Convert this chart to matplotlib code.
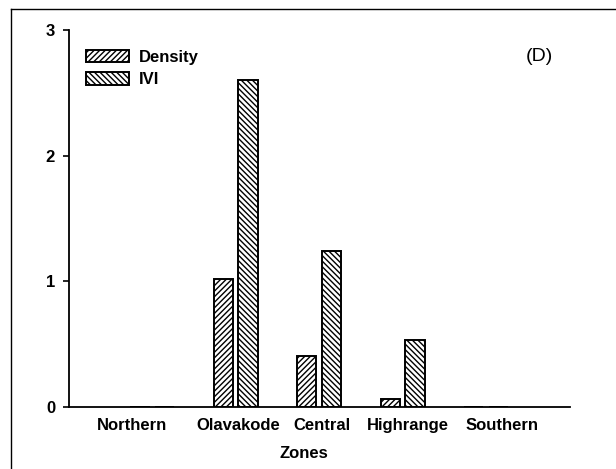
import numpy as np
import matplotlib.pyplot as plt
import matplotlib.transforms as mtransforms
from matplotlib.lines import Line2D

zones = ['Northern', 'Olavakode', 'Central', 'Highrange', 'Southern']
density = [0.0, 1.02, 0.41, 0.064, 0.0]
ivi = [0.0, 2.60, 1.24, 0.53, 0.0]

plt.rcParams['font.family'] = ['Liberation Sans', 'DejaVu Sans']
plt.rcParams['hatch.linewidth'] = 1.0

fig = plt.figure(figsize=(6.16, 4.69), dpi=100)
ax = fig.add_axes([0.112, 0.132, 0.813, 0.804])

x = np.arange(len(zones))
w = 0.23
ax.bar(x - 0.15, density, w, color='white', edgecolor='black', hatch='//////',
       linewidth=1.4, label='Density')
ax.bar(x + 0.145, ivi, w, color='white', edgecolor='black', hatch='\\\\\\\\\\\\',
       linewidth=1.4, label='IVI')

ax.set_xlim(-1, 5)
ax.set_ylim(0, 3)
ax.set_yticks([0, 1, 2, 3])
ax.set_xticks(x)
ax.set_xticklabels(zones, fontsize=12, fontweight='bold')
ax.tick_params(axis='x', length=0, pad=8)
ax.tick_params(axis='y', direction='out', length=4, width=1.2, labelsize=12, pad=6)
for t in ax.get_yticklabels():
    t.set_fontweight('bold')

# the source spreads the outer labels a little wider than the bars
shifts = [-20, 2, 3, 5, 16]
for lab, dx in zip(ax.get_xticklabels(), shifts):
    lab.set_transform(lab.get_transform() +
                      mtransforms.ScaledTranslation(dx / 100, 0, fig.dpi_scale_trans))

ax.spines['top'].set_visible(False)
ax.spines['right'].set_visible(False)
ax.spines['left'].set_linewidth(1.3)
ax.spines['bottom'].set_linewidth(1.3)
ax.set_xlabel('Zones', fontsize=12, fontweight='bold')
ax.xaxis.set_label_coords(0.47, -0.103)

ax.text(0.94, 0.93, '(D)', transform=ax.transAxes, fontsize=14, ha='center', va='center')

ax.legend(loc='upper left', bbox_to_anchor=(0.02, 0.965), frameon=False,
          handlelength=2.6, handleheight=0.75, labelspacing=0.45,
          handletextpad=0.6, borderaxespad=0,
          prop={'size': 12, 'weight': 'bold'})

# outer frame (top and left edges of the source image)
fig.add_artist(Line2D([11 / 616, 1], [1 - 9 / 469, 1 - 9 / 469], color='black', lw=1,
                      transform=fig.transFigure))
fig.add_artist(Line2D([11 / 616, 11 / 616], [0, 1 - 9 / 469], color='black', lw=1,
                      transform=fig.transFigure))

fig.savefig('out.png', dpi=100)
